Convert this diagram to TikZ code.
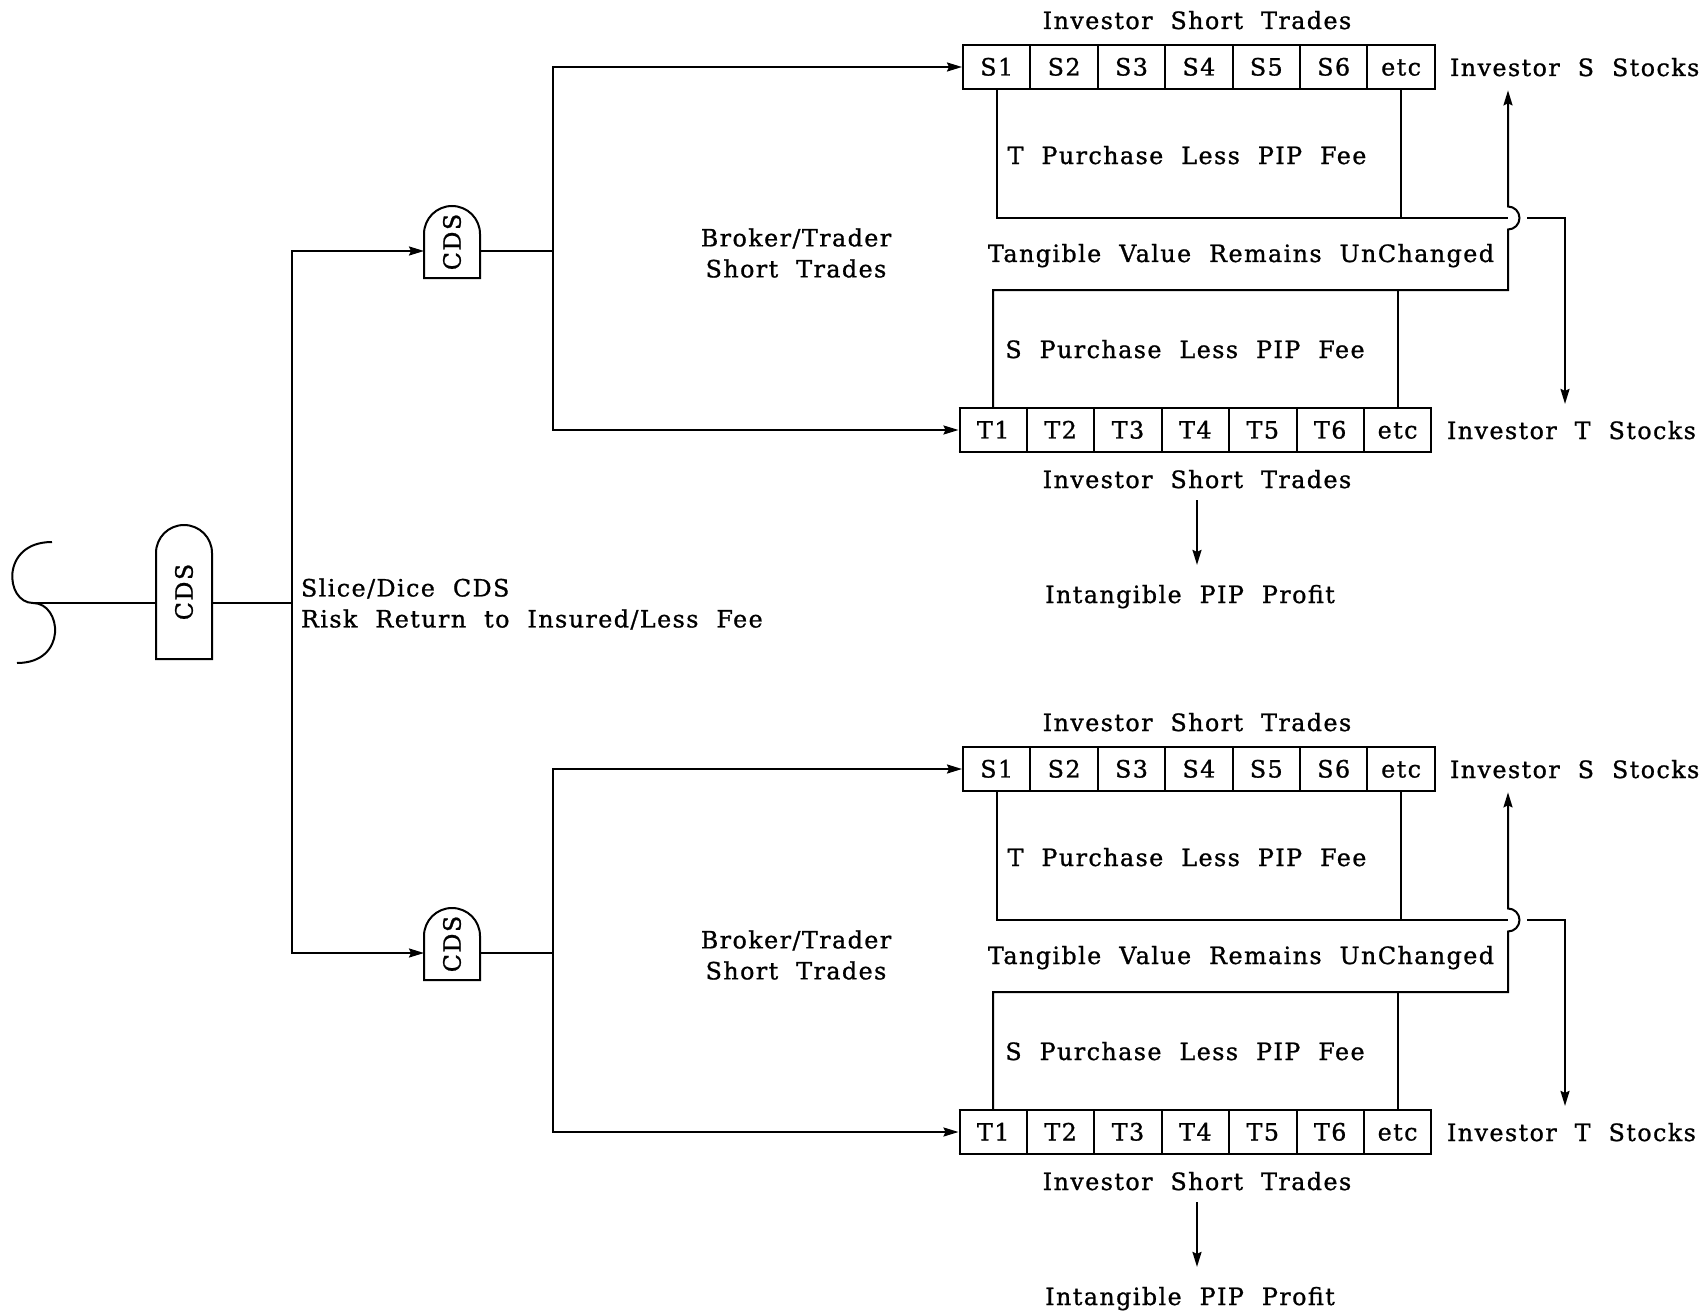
\documentclass[tikz,border=0pt]{standalone}
\usepackage{fontspec}
\setmainfont{DejaVu Serif}[WordSpace=2.0, LetterSpace=6, FakeBold=1]
\usepackage{graphicx}
\usepackage{array}
\usepackage{tikz}
\usetikzlibrary{positioning, arrows.meta, calc}

\setlength{\tabcolsep}{0pt}
\setlength{\arrayrulewidth}{1pt}
\renewcommand{\arraystretch}{1.37}

\begin{document}
\begin{tikzpicture}[
        x=0.5pt, y=-0.5pt,
        >={Stealth[length=7.5pt, width=4.5pt, inset=1pt]},
        line width=1pt,
        table/.style={anchor=west},
        cdsbox/.style={minimum width=28pt},
        every node/.style={font=\fontsize{11.9}{15.5}\selectfont, inner sep=0pt, outer sep=0pt}
    ]
    \useasboundingbox (0,0) rectangle (1704,1311);

    % --- Insured and the first CDS ---
    \coordinate (sj) at (33,603);
    \coordinate (tr) at (292,603);
    \draw (52,542) .. controls (0,542) and (5,603) .. (sj)
          .. controls (62,603) and (68,663) .. (17,663);
    \node[cdsbox, minimum height=67pt] (cds) at (184,592) {\rotatebox{90}{CDS}};
    \draw (cds.south west) -- ([yshift=-14pt]cds.north west) arc[start angle=180, end angle=0, radius=14pt] -- (cds.south east) -- cycle;
    \draw (sj) -- (sj -| cds.west);
    \draw (cds.east |- sj) -- (tr);
    \node[anchor=west, align=left] (slice) at (301,604) {Slice/Dice CDS\\Risk Return to Insured/Less Fee};

    % --- Broker/Trader branches (upper a, lower b) ---
    \foreach \br/\dy in {a/0, b/702} {
      \begin{scope}[yshift=-\dy*0.5pt]
        \node[cdsbox, minimum height=36pt] (cds\br) at (452,242) {\rotatebox{90}{CDS}};
        \draw (cds\br.south west) -- ([yshift=-14pt]cds\br.north west) arc[start angle=180, end angle=0, radius=14pt] -- (cds\br.south east) -- cycle;
        \node[align=center] (brok\br) at (796,253) {Broker/Trader\\Short Trades};

        % S trades
        \node[table] (srow\br) at (962,67) {
            \begin{tabular}{|*{7}{w{c}{32.7pt}|}}
                \hline
                S1 & S2 & S3 & S4 & S5 & S6 & etc \\ \hline
            \end{tabular}
        };
        \node[anchor=base] (topl\br) at (1197,29) {Investor Short Trades};
        \node[anchor=base west] (sstk\br) at (1450,76) {Investor S Stocks};
        \node[anchor=base] (tpur\br) at (1187,164) {T Purchase Less PIP Fee};
        \node[anchor=base] (tang\br) at (1241,262) {Tangible Value Remains UnChanged};
        \node[anchor=base] (spur\br) at (1185,358) {S Purchase Less PIP Fee};

        % T trades
        \node[table] (trow\br) at (958.5,430) {
            \begin{tabular}{|*{7}{w{c}{32.7pt}|}}
                \hline
                T1 & T2 & T3 & T4 & T5 & T6 & etc \\ \hline
            \end{tabular}
        };
        \node[anchor=base west] (tstk\br) at (1447,439) {Investor T Stocks};
        \node[anchor=base] (botl\br) at (1197,488) {Investor Short Trades};
        \node[anchor=base] (intg\br) at (1190,603) {Intangible PIP Profit};

        % connectors
        \draw[->] (tr) |- ([yshift=-4.5pt]cds\br.west);
        \draw ([yshift=-4.5pt]cds\br.east) -- ++(36.5pt,0) coordinate (fork\br);
        \draw[->] (fork\br) |- (srow\br.west);
        \draw[->] (fork\br) |- (trow\br.west);

        \coordinate (hop\br) at (1508,218);
        \coordinate (low\br) at (1508,290);
        \coordinate (drop\br) at (1565,218);
        \draw ([xshift=17.35pt]srow\br.south west) |- (hop\br);
        \draw ([xshift=-17.35pt]srow\br.south east) |- (hop\br);
        \draw[->, shorten >=8.5pt] ([xshift=9.5pt]hop\br) -- (drop\br) -- (drop\br |- tstk\br.north);
        \draw ([xshift=-17.35pt]trow\br.north east) |- (low\br);
        \draw[->, shorten >=7pt] ([xshift=17.35pt]trow\br.north west) |- (low\br) -- ([yshift=-5.75pt]hop\br)
            arc[start angle=-90, end angle=90, radius=5.75pt] -- (sstk\br.south -| hop\br);
        \draw[->, shorten <=6pt, shorten >=10pt] (botl\br.south) -- (botl\br.south |- intg\br.north);
      \end{scope}
    }
\end{tikzpicture}
\end{document}
